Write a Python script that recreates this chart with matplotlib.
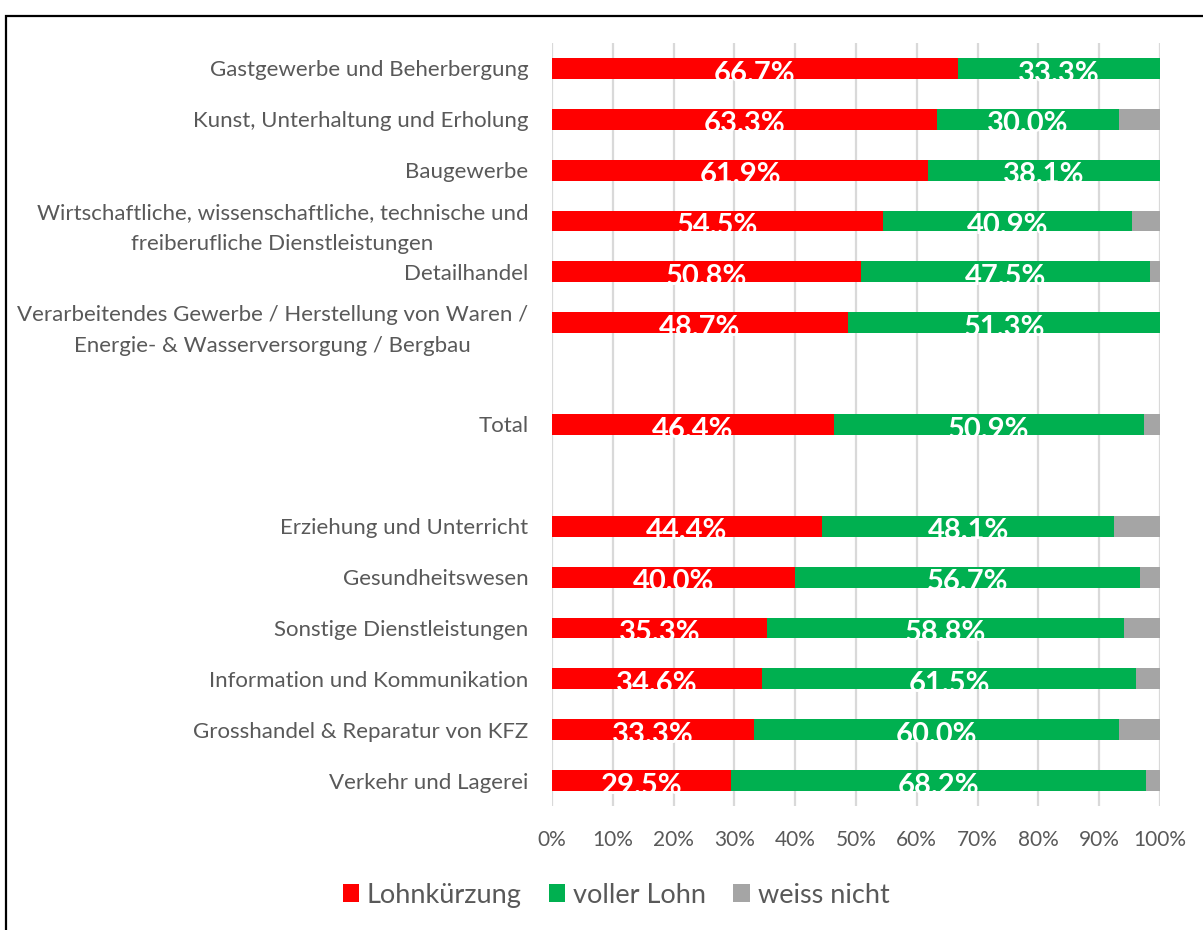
import matplotlib
matplotlib.use("Agg")
import matplotlib.pyplot as plt
from matplotlib.patches import Patch, Rectangle
import numpy as np

plt.rcParams['font.family'] = ['Lato', 'DejaVu Sans']

categories = [
    "Gastgewerbe und Beherbergung",
    "Kunst, Unterhaltung und Erholung",
    "Baugewerbe",
    "Wirtschaftliche, wissenschaftliche, technische und\nfreiberufliche Dienstleistungen",
    "Detailhandel",
    "Verarbeitendes Gewerbe / Herstellung von Waren /\nEnergie- & Wasserversorgung / Bergbau",
    "",
    "Total",
    "",
    "Erziehung und Unterricht",
    "Gesundheitswesen",
    "Sonstige Dienstleistungen",
    "Information und Kommunikation",
    "Grosshandel & Reparatur von KFZ",
    "Verkehr und Lagerei",
]
lohnkuerzung = [66.7, 63.3, 61.9, 54.5, 50.8, 48.7, 0, 46.4, 0, 44.4, 40.0, 35.3, 34.6, 33.3, 29.5]
voller_lohn  = [33.3, 30.0, 38.1, 40.9, 47.5, 51.3, 0, 50.9, 0, 48.1, 56.7, 58.8, 61.5, 60.0, 68.2]
weiss_nicht  = [0.0, 6.7, 0.0, 4.6, 1.7, 0.0, 0, 2.7, 0, 7.5, 3.3, 5.9, 3.9, 6.7, 2.3]
series_names = ["Lohnkürzung", "voller Lohn", "weiss nicht"]
colors = ["#FF0000", "#00B050", "#A5A5A5"]
xticks = [0, 10, 20, 30, 40, 50, 60, 70, 80, 90, 100]

W, H = 1203, 930
fig = plt.figure(figsize=(W / 100, H / 100), dpi=100)
ax = fig.add_axes([552 / W, 1 - 806 / H, (1160 - 552) / W, (806 - 43) / H])

y = np.arange(len(categories))
bh = 0.41
left = np.zeros(len(categories))
series = [lohnkuerzung, voller_lohn, weiss_nicht]
for si, (vals, col) in enumerate(zip(series, colors)):
    vals = np.array(vals, dtype=float)
    bars = ax.barh(y, vals, left=left, height=bh, color=col, zorder=3)
    if si < 2:
        for b, v, l in zip(bars, vals, left):
            if v > 0:
                t = ax.text(l + v / 2, b.get_y() + bh / 2 + 0.1, f"{v:.1f}%",
                            ha='center', va='center', color='white',
                            fontsize=21, fontweight='bold', zorder=4)
                t.set_clip_path(b)
    left = left + vals

ax.set_ylim(len(categories) - 0.5, -0.5)
ax.set_xlim(0, 100)
ax.set_yticks(y)
ax.set_yticklabels(categories, fontsize=16, color='#595959', multialignment='center',
                   linespacing=1.7)
ax.set_xticks(xticks)
ax.set_xticklabels([f"{v}%" for v in xticks], fontsize=15, color='#595959')
ax.tick_params(axis='y', length=0, pad=17)
ax.tick_params(axis='x', length=0, pad=17)
for s in ax.spines.values():
    s.set_visible(False)
ax.xaxis.grid(True, color='#D9D9D9', linewidth=1.6, zorder=0)
ax.set_axisbelow(True)

handles = [Patch(facecolor=c, edgecolor='none') for c in colors]
fig.legend(handles, series_names, loc='center', bbox_to_anchor=(616 / W, 1 - 895 / H),
           ncol=3, frameon=False, fontsize=19.5, labelcolor='#595959',
           handlelength=0.6, handleheight=0.6, handletextpad=0.3, columnspacing=1.0)

fig.patches.append(Rectangle((6 / W, -0.05), 1.2, 1 - 16 / H + 0.05, transform=fig.transFigure,
                             fill=False, edgecolor='black', linewidth=1.6))

fig.savefig("out.png", dpi=100)
